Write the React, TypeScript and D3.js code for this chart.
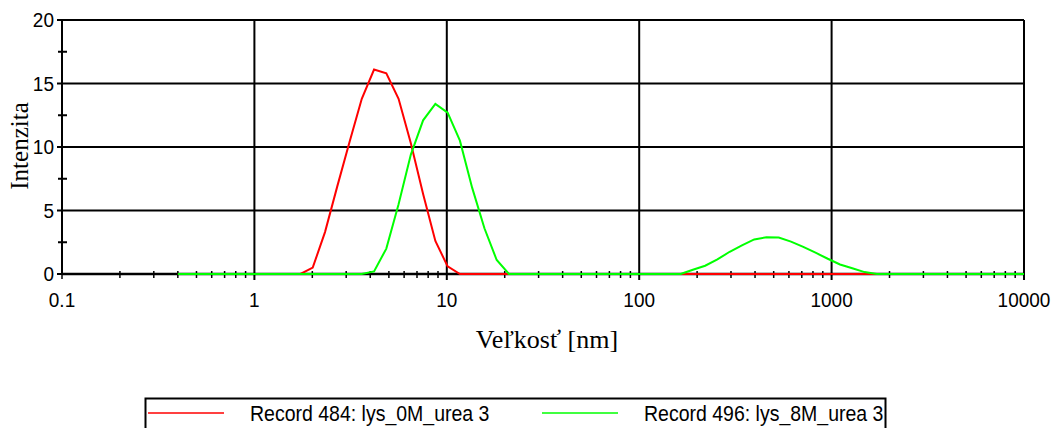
import React, { useEffect, useRef } from 'react';
import * as d3 from 'd3';

// size classes (nm)
const sizes = [
  0.4, 0.4632, 0.5365, 0.6213, 0.7195, 0.8332, 0.9649, 1.117, 1.294, 1.499,
  1.736, 2.01, 2.328, 2.696, 3.122, 3.615, 4.187, 4.849, 5.615, 6.503,
  7.531, 8.721, 10.1, 11.7, 13.54, 15.69, 18.17, 21.04, 24.36, 28.21,
  32.67, 37.84, 43.82, 50.75, 58.77, 68.06, 78.82, 91.28, 105.7, 122.4,
  141.8, 164.2, 190.1, 220.2, 255.0, 295.3, 342.0, 396.1, 458.7, 531.2,
  615.1, 712.4, 825.0, 955.4, 1106, 1281, 1484, 1718, 1990, 2305,
  2669, 3091, 3580, 4145, 4801, 5560, 6439, 7456, 8635, 10000,
];

const record484 = [
  0, 0, 0, 0, 0, 0, 0, 0, 0, 0,
  0, 0.5, 3.3, 6.9, 10.4, 13.8, 16.1, 15.8, 13.8, 10.3,
  6.3, 2.6, 0.6, 0, 0, 0, 0, 0, 0, 0,
  0, 0, 0, 0, 0, 0, 0, 0, 0, 0,
  0, 0, 0, 0, 0, 0, 0, 0, 0, 0,
  0, 0, 0, 0, 0, 0, 0, 0, 0, 0,
  0, 0, 0, 0, 0, 0, 0, 0, 0, 0,
];

const record496 = [
  0, 0, 0, 0, 0, 0, 0, 0, 0, 0,
  0, 0, 0, 0, 0, 0, 0.2, 2.0, 5.5, 9.4,
  12.1, 13.4, 12.7, 10.5, 6.8, 3.6, 1.1, 0, 0, 0,
  0, 0, 0, 0, 0, 0, 0, 0, 0, 0,
  0, 0, 0.33, 0.65, 1.15, 1.75, 2.25, 2.72, 2.89, 2.87,
  2.55, 2.14, 1.68, 1.2, 0.75, 0.45, 0.15, 0, 0, 0,
  0, 0, 0, 0, 0, 0, 0, 0, 0, 0,
];

const seriesNames = ['Record 484: lys_0M_urea 3', 'Record 496: lys_8M_urea 3'];
const seriesColors = ['#ff0000', '#00ff00'];

const xTicks = [0.1, 1, 10, 100, 1000, 10000];
const xTickLabels = ['0.1', '1', '10', '100', '1000', '10000'];
const yTicks = [0, 5, 10, 15, 20];
const yMinorTicks = [2.5, 7.5, 12.5, 17.5];

const App = () => {
  const ref = useRef(null);

  useEffect(() => {
    const svg = d3.select(ref.current);
    svg.selectAll('*').remove();

    const x = d3.scaleLog().domain([0.1, 10000]).range([62, 1024]);
    const y = d3.scaleLinear().domain([0, 20]).range([274, 20]);
    const sans = '"Liberation Sans", Arial, sans-serif';
    const serif = '"Liberation Serif", "Times New Roman", serif';

    // horizontal grid
    svg.append('g')
      .selectAll('line')
      .data(yTicks.slice(1))
      .enter()
      .append('line')
      .attr('x1', x(0.1)).attr('x2', x(10000))
      .attr('y1', d => y(d)).attr('y2', d => y(d))
      .attr('stroke', '#000').attr('stroke-width', 2);

    // vertical grid (decades)
    svg.append('g')
      .selectAll('line')
      .data(xTicks.slice(1))
      .enter()
      .append('line')
      .attr('x1', d => x(d)).attr('x2', d => x(d))
      .attr('y1', y(20)).attr('y2', y(0) + 6)
      .attr('stroke', '#000').attr('stroke-width', 2);

    // y axis
    svg.append('line')
      .attr('x1', x(0.1)).attr('x2', x(0.1))
      .attr('y1', y(20) - 1).attr('y2', y(0) + 1)
      .attr('stroke', '#000').attr('stroke-width', 2);

    svg.append('g')
      .selectAll('line')
      .data(yTicks)
      .enter()
      .append('line')
      .attr('x1', x(0.1) - 5).attr('x2', x(0.1))
      .attr('y1', d => y(d)).attr('y2', d => y(d))
      .attr('stroke', '#000').attr('stroke-width', 2);

    svg.append('g')
      .selectAll('line')
      .data(yMinorTicks)
      .enter()
      .append('line')
      .attr('x1', x(0.1) - 4).attr('x2', x(0.1) + 5)
      .attr('y1', d => y(d)).attr('y2', d => y(d))
      .attr('stroke', '#000').attr('stroke-width', 2);

    svg.append('g')
      .selectAll('text')
      .data(yTicks)
      .enter()
      .append('text')
      .attr('transform', d => `translate(54, ${y(d) + 7}) scale(1, 1.1)`)
      .attr('text-anchor', 'end')
      .style('font-family', sans)
      .style('font-size', '19px')
      .text(d => d);

    // x axis baseline and minor ticks
    svg.append('line')
      .attr('x1', x(0.1)).attr('x2', x(10000))
      .attr('y1', y(0)).attr('y2', y(0))
      .attr('stroke', '#000').attr('stroke-width', 2.5);

    const minor = x.ticks().filter(d => !xTicks.includes(d));
    svg.append('g')
      .selectAll('line')
      .data(minor)
      .enter()
      .append('line')
      .attr('x1', d => x(d)).attr('x2', d => x(d))
      .attr('y1', y(0) - 3).attr('y2', y(0) + 4)
      .attr('stroke', '#000').attr('stroke-width', 1.5);

    svg.append('line')
      .attr('x1', x(0.1)).attr('x2', x(0.1))
      .attr('y1', y(0)).attr('y2', y(0) + 5)
      .attr('stroke', '#000').attr('stroke-width', 1.5);

    svg.append('g')
      .selectAll('text')
      .data(xTicks)
      .enter()
      .append('text')
      .attr('transform', d => `translate(${x(d)}, 307) scale(1, 1.1)`)
      .attr('text-anchor', 'middle')
      .style('font-family', sans)
      .style('font-size', '19px')
      .text((d, i) => xTickLabels[i]);

    // data lines
    const line = d3.line()
      .x((d, i) => x(sizes[i]))
      .y(d => y(d));

    [record484, record496].forEach((values, k) => {
      svg.append('path')
        .datum(values)
        .attr('d', line)
        .attr('fill', 'none')
        .attr('stroke', seriesColors[k])
        .attr('stroke-width', 2);
    });

    // axis titles
    svg.append('text')
      .attr('x', 547).attr('y', 348)
      .attr('text-anchor', 'middle')
      .style('font-family', serif)
      .style('font-size', '26px')
      .text('Veľkosť [nm]');

    svg.append('text')
      .attr('transform', 'translate(28, 146) rotate(-90)')
      .attr('text-anchor', 'middle')
      .style('font-family', serif)
      .style('font-size', '25px')
      .text('Intenzita');

    // legend
    svg.append('rect')
      .attr('x', 145.5).attr('y', 398.5)
      .attr('width', 740).attr('height', 60)
      .attr('fill', 'none')
      .attr('stroke', '#000').attr('stroke-width', 2);

    const legendX = [148, 542];
    seriesNames.forEach((name, k) => {
      svg.append('line')
        .attr('x1', legendX[k]).attr('x2', legendX[k] + 76)
        .attr('y1', 413).attr('y2', 413)
        .attr('stroke', seriesColors[k]).attr('stroke-width', 1.5);
      svg.append('text')
        .attr('transform', `translate(${legendX[k] + 102}, 421) scale(1, 1.1)`)
        .style('font-family', sans)
        .style('font-size', '19.5px')
        .text(name);
    });
  }, []);

  return (
    <svg
      ref={ref}
      width={1056}
      height={428}
      style={{ position: 'absolute', left: 0, top: 0, background: '#fff' }}
    />
  );
};

export default App;
